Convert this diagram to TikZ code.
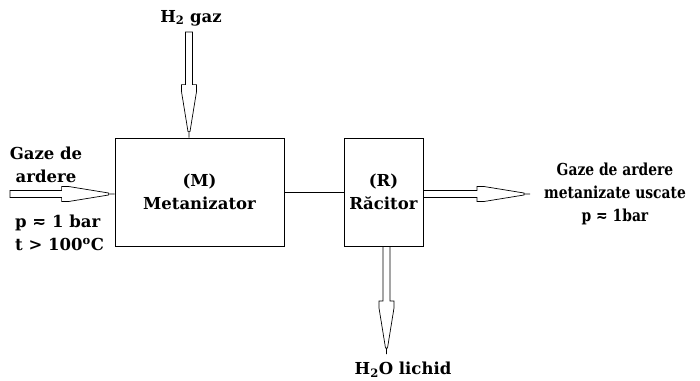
\documentclass[tikz,border=0pt]{standalone}
\usepackage{fontspec}
\setmainfont{DejaVu Serif}
\newfontfamily\symfont{DejaVu Sans}
\usetikzlibrary{calc}
\newcommand{\aprox}{{\symfont ≂}}

\begin{document}
\begin{tikzpicture}[x=1pt,y=-1pt,
  font=\bfseries\fontsize{16.5}{23}\selectfont,
  unit/.style={draw,line width=0.8pt,minimum height=108pt,align=center},
  flowtext/.style={align=center,inner sep=0pt},
  flow/.style={line width=0.7pt,to path={
    ($(\tikztostart)!3.5pt!90:(\tikztotarget)$)
    -- ($(\tikztotarget)!53pt!(\tikztostart)!3.5pt!-90:(\tikztostart)$)
    -- ($(\tikztotarget)!53pt!(\tikztostart)!7.5pt!-90:(\tikztostart)$)
    -- ($(\tikztotarget)!46pt!(\tikztostart)!7.5pt!-90:(\tikztostart)$)
    -- ($(\tikztotarget)!6pt!(\tikztostart)!1pt!-90:(\tikztostart)$)
    -- ($(\tikztotarget)!6pt!(\tikztostart)!1pt!90:(\tikztostart)$)
    -- ($(\tikztotarget)!46pt!(\tikztostart)!7.5pt!90:(\tikztostart)$)
    -- ($(\tikztotarget)!53pt!(\tikztostart)!7.5pt!90:(\tikztostart)$)
    -- ($(\tikztotarget)!53pt!(\tikztostart)!3.5pt!90:(\tikztostart)$)
    -- ($(\tikztostart)!3.5pt!-90:(\tikztotarget)$) -- cycle
    ($(\tikztotarget)!6pt!(\tikztostart)$) -- (\tikztotarget)}}]
\useasboundingbox (0,0) rectangle (700,380);

% The two units.
\node[unit,minimum width=169pt] (M) at (199.5,192) {(M)\\Metanizator};
\node[unit,minimum width=79pt,inner sep=0pt] (R) at (383.5,192) {(R)\\Răcitor};

\draw[line width=0.8pt] (M) -- (R);

% Ends of the flows.
\coordinate (h2in) at (189,32);
\coordinate (h2end) at (h2in |- M.north);
\coordinate (gin) at (10,194);
\coordinate (gend) at (gin -| M.west);
\coordinate (gout) at (530,194);
\coordinate (gstart) at (gout -| R.east);
\coordinate (wout) at (386.5,354);
\coordinate (wstart) at (wout |- R.south);
\coordinate (gtext) at (615,194);

\draw[flow] (h2in) to (h2end);
\draw[flow] (gin) to (gend);
\draw[flow] (gstart) to (gout);
\draw[flow] (wstart) to (wout);

% Labels of the flows.
\node[flowtext] (h2) at (191,18) {H\textsubscript{2} gaz};
\node[flowtext] (gaze) at (46,165) {Gaze de\\ardere};
\node[flowtext,anchor=west,align=left] (pt) at (15,233) {p \aprox{} 1 bar\\t > 100\textsuperscript{o}C};
\node[flowtext,xscale=0.84,transform shape] (gazeout) at (gtext) {Gaze de ardere\\metanizate uscate\\p \aprox{} 1bar};
\node[flowtext] (apa) at (403,370) {H\textsubscript{2}O lichid};

\end{tikzpicture}
\end{document}
